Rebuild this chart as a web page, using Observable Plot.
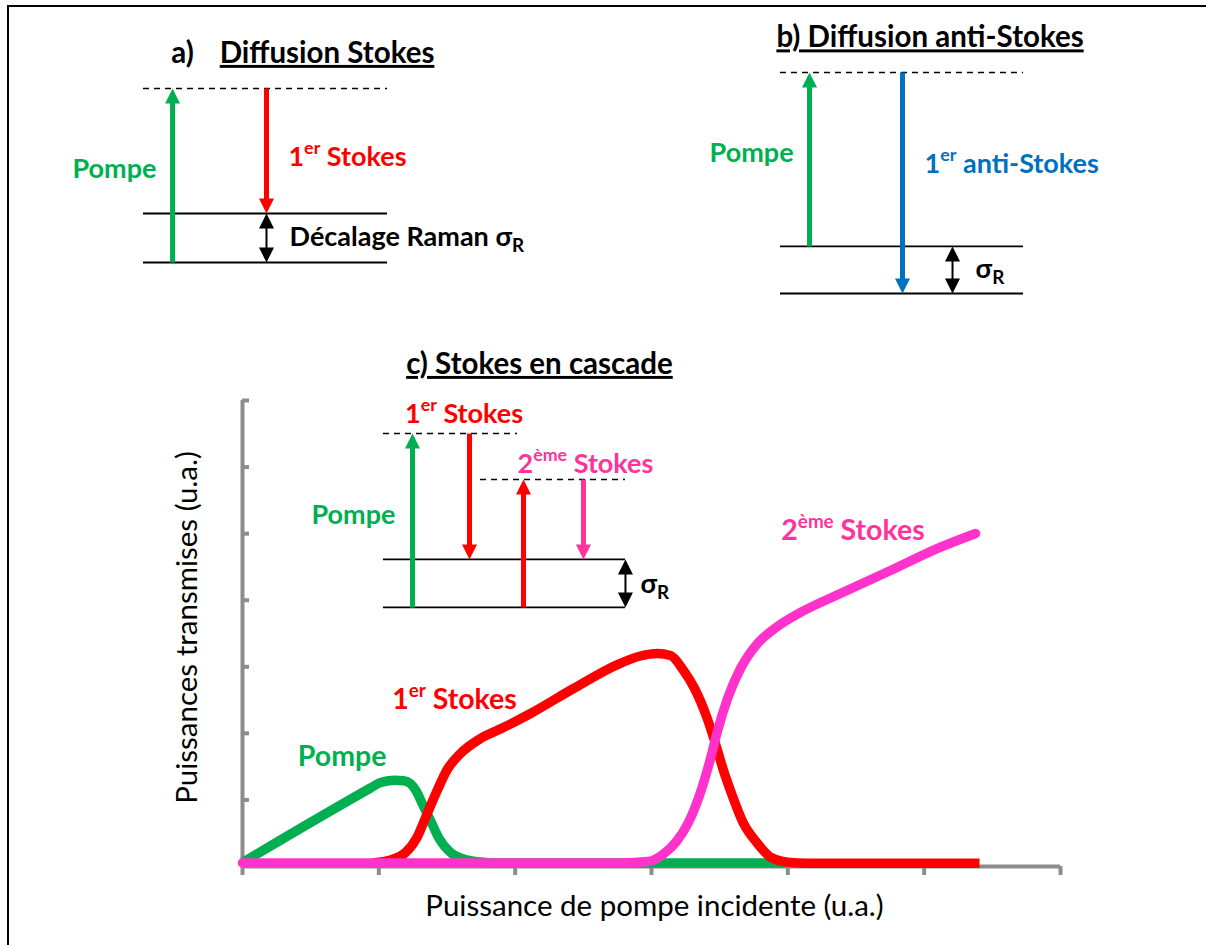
<!DOCTYPE html>
<html lang="fr">
<head>
<meta charset="utf-8">
<script src="https://cdn.jsdelivr.net/npm/d3@7"></script>
<script src="https://cdn.jsdelivr.net/npm/@observablehq/plot@0.6"></script>
<style>
  html, body { margin: 0; padding: 0; background: #fff; overflow: hidden; }
  #wrap { position: relative; width: 1206px; height: 945px; }
  #chart { position: absolute; left: 0; top: 0; }
  #frame { position: absolute; left: 7px; top: 5px; width: 1199px; height: 938px;
           border-top: 2px solid #000; border-left: 2px solid #000; pointer-events: none; }
</style>
</head>
<body>
<div id="wrap"><div id="chart"></div><div id="frame"></div></div>
<script>
// ---------- data (chart units: x = incident pump power, y = transmitted power) ----------
const xTicks = [0, 1, 2, 3, 4, 5, 6];
const yTicks = [0, 1, 2, 3, 4, 5, 6, 7];

const pompe = [
  [0, 0.06], [0.939, 1.179], [1.005, 1.255], [1.06, 1.285], [1.12, 1.295], [1.181, 1.288],
  [1.232, 1.245], [1.276, 1.127], [1.318, 0.946], [1.379, 0.691], [1.438, 0.436],
  [1.526, 0.21], [1.621, 0.113], [1.746, 0.068], [1.856, 0.053], [3.983, 0.053]
];
const stokes1 = [
  [0.954, 0.053], [1.108, 0.113], [1.196, 0.21], [1.281, 0.44], [1.355, 0.796],
  [1.428, 1.142], [1.502, 1.457], [1.599, 1.697], [1.746, 1.923], [1.914, 2.088],
  [2.113, 2.298], [2.428, 2.674], [2.751, 3.034], [2.919, 3.162], [3.042, 3.2],
  [3.14, 3.17], [3.235, 2.944], [3.316, 2.674], [3.409, 2.223], [3.477, 1.792],
  [3.528, 1.442], [3.587, 1.097], [3.675, 0.646], [3.778, 0.346], [3.873, 0.14],
  [3.998, 0.065], [4.144, 0.05], [5.406, 0.05]
];
const stokes2 = [
  [0, 0.053], [2.773, 0.053], [2.978, 0.075], [3.088, 0.188], [3.183, 0.376],
  [3.271, 0.661], [3.359, 1.112], [3.433, 1.622], [3.485, 2.043], [3.558, 2.524],
  [3.653, 2.974], [3.778, 3.35], [3.924, 3.605], [4.093, 3.816], [4.386, 4.101],
  [4.753, 4.446], [5.12, 4.796], [5.377, 5.002]
];

// energy-level diagrams a), b), c) expressed in the same units
const levelsReal = [
  {x1: -0.726, x2: 1.064, y: 9.809}, {x1: -0.726, x2: 1.064, y: 9.073},
  {x1: 3.946, x2: 5.729, y: 9.314}, {x1: 3.946, x2: 5.729, y: 8.607},
  {x1: 1.034, x2: 2.809, y: 4.612}, {x1: 1.034, x2: 2.809, y: 3.891}
];
const levelsVirtual = [
  {x1: -0.726, x2: 1.064, y: 11.687},
  {x1: 3.946, x2: 5.729, y: 11.927},
  {x1: 1.034, x2: 2.017, y: 6.504},
  {x1: 1.746, x2: 2.809, y: 5.813}
];
const transitions = [
  {x: -0.513, y1: 9.073, y2: 11.687, kind: "pompe"},
  {x: 0.176, y1: 11.687, y2: 9.809, kind: "s1"},
  {x: 4.159, y1: 9.314, y2: 11.927, kind: "pompe"},
  {x: 4.841, y1: 11.927, y2: 8.607, kind: "as"},
  {x: 1.247, y1: 3.891, y2: 6.504, kind: "pompe"},
  {x: 1.665, y1: 6.504, y2: 4.612, kind: "s1"},
  {x: 2.061, y1: 3.891, y2: 5.813, kind: "s1"},
  {x: 2.501, y1: 5.813, y2: 4.612, kind: "s2"}
];
const ramanShifts = [
  {x: 0.176, y1: 9.073, y2: 9.809},
  {x: 5.208, y1: 8.607, y2: 9.314},
  {x: 2.809, y1: 3.891, y2: 4.612}
];

const titles = [
  {x: -0.44, y: 12.213, text: "a)", underline: false},
  {x: 0.62, y: 12.213, text: "Diffusion Stokes", underline: true},
  {x: 5.043, y: 12.446, text: "b) Diffusion anti-Stokes", underline: true},
  {x: 2.178, y: 7.541, text: "c) Stokes en cascade", underline: true}
];
const diagramLabels = [
  {x: -0.631, y: 10.47, text: "Pompe", kind: "pompe", side: "left"},
  {x: 0.337, y: 10.658, text: "1^er Stokes", kind: "s1", side: "right"},
  {x: 0.345, y: 9.449, text: "Décalage Raman σ_R", kind: "black", side: "right"},
  {x: 4.042, y: 10.718, text: "Pompe", kind: "pompe", side: "left"},
  {x: 5.003, y: 10.553, text: "1^er anti-Stokes", kind: "as", side: "right"},
  {x: 5.377, y: 8.968, text: "σ_R", kind: "black", side: "right"},
  {x: 1.122, y: 5.273, text: "Pompe", kind: "pompe", side: "left"},
  {x: 1.625, y: 6.797, text: "1^er Stokes", kind: "s1", side: "above"},
  {x: 2.017, y: 6.046, text: "2^ème Stokes", kind: "s2", side: "right"},
  {x: 2.919, y: 4.236, text: "σ_R", kind: "black", side: "right"}
];
const curveLabels = [
  {x: 0.731, y: 1.652, text: "Pompe", kind: "pompe"},
  {x: 1.555, y: 2.509, text: "1^er Stokes", kind: "s1"},
  {x: 4.478, y: 5.047, text: "2^ème Stokes", kind: "s2"}
];
const xTitle = "Puissance de pompe incidente (u.a.)";
const yTitle = "Puissances transmises (u.a.)";

// ---------- styles ----------
const colors = {pompe: "#00b050", s1: "#ff0000", s2: "#ff3399", as: "#0070c0", black: "#000000"};
const lineColors = {pompe: "#00b050", s1: "#ff0000", s2: "#ff33cc"};
const gray = "#8c8c8c";
const FONT = "Lato, 'Open Sans', 'DejaVu Sans', sans-serif";
const headUp = {draw(c) { c.moveTo(0, 0); c.lineTo(7.5, 15); c.lineTo(-7.5, 15); c.closePath(); }};
const headDown = {draw(c) { c.moveTo(0, 0); c.lineTo(7.5, -15); c.lineTo(-7.5, -15); c.closePath(); }};
const up = transitions.filter(d => d.y2 > d.y1);
const down = transitions.filter(d => d.y2 < d.y1);
const col = d => colors[d.kind];

const chart = Plot.plot({
  width: 1206, height: 945,
  marginLeft: 242, marginRight: 146, marginTop: 400, marginBottom: 79,
  x: {domain: [0, 6]},
  y: {domain: [0, 7]},
  color: {type: "identity"},
  style: {fontFamily: FONT, background: "transparent", overflow: "visible"},
  marks: [
    // axes
    Plot.axisX(xTicks, {tickSize: 9, tickFormat: () => "", label: null, stroke: gray, strokeWidth: 4}),
    Plot.axisY(yTicks.slice(1), {tickSize: 7, dx: 7, tickFormat: () => "", label: null, stroke: gray, strokeWidth: 4}),
    Plot.ruleX([{x: 0, y1: 0, y2: 7}], {x: "x", y1: "y1", y2: "y2", stroke: gray, strokeWidth: 4}),
    Plot.ruleY([{y: 0, x1: 0, x2: 6}], {y: "y", x1: "x1", x2: "x2", stroke: gray, strokeWidth: 4}),
    Plot.text([yTitle], {text: d => d, frameAnchor: "left", rotate: -90, dx: -55, dy: -6,
      fontSize: 29.5, fill: "#000", textAnchor: "middle"}),
    Plot.text([xTitle], {text: d => d, frameAnchor: "bottom", dx: 3, dy: 49,
      fontSize: 29.5, fill: "#000", textAnchor: "middle"}),

    // curves
    Plot.line(pompe, {x: d => d[0], y: d => d[1], stroke: lineColors.pompe, strokeWidth: 9.5,
      curve: "monotone-x", strokeLinecap: "butt"}),
    Plot.line(stokes1, {x: d => d[0], y: d => d[1], stroke: lineColors.s1, strokeWidth: 9.5,
      curve: "monotone-x", strokeLinecap: "butt"}),
    Plot.line(stokes2, {x: d => d[0], y: d => d[1], stroke: lineColors.s2, strokeWidth: 9.5,
      curve: "monotone-x", strokeLinecap: "round"}),
    Plot.text(curveLabels, {x: "x", y: "y", text: "text", fill: col, fontSize: 28.5,
      fontWeight: "bold", textAnchor: "middle"}),

    // level diagrams
    Plot.ruleY(levelsReal, {y: "y", x1: "x1", x2: "x2", stroke: "#000", strokeWidth: 1.8}),
    Plot.ruleY(levelsVirtual, {y: "y", x1: "x1", x2: "x2", stroke: "#000", strokeWidth: 1.3,
      strokeDasharray: "6,5"}),
    Plot.arrow(transitions, {x1: "x", x2: "x", y1: "y1", y2: "y2", stroke: col, strokeWidth: 5,
      headLength: 0, insetEnd: 10, strokeLinecap: "butt"}),
    Plot.dot(up, {x: "x", y: "y2", symbol: headUp, fill: col, stroke: "none"}),
    Plot.dot(down, {x: "x", y: "y2", symbol: headDown, fill: col, stroke: "none"}),
    Plot.arrow(ramanShifts, {x1: "x", x2: "x", y1: "y1", y2: "y2", stroke: "#000", strokeWidth: 2,
      headLength: 0, insetStart: 10, insetEnd: 10, strokeLinecap: "butt"}),
    Plot.dot(ramanShifts, {x: "x", y: "y2", symbol: headUp, fill: "#000", stroke: "none"}),
    Plot.dot(ramanShifts, {x: "x", y: "y1", symbol: headDown, fill: "#000", stroke: "none"}),

    Plot.text(titles, {x: "x", y: "y", text: "text", fill: "#000", fontSize: 29.5,
      fontWeight: "bold", textAnchor: "middle"}),
    Plot.text(diagramLabels.filter(d => d.side === "left"), {x: "x", y: "y", text: "text", fill: col,
      fontSize: 27, fontWeight: "bold", textAnchor: "end"}),
    Plot.text(diagramLabels.filter(d => d.side === "right"), {x: "x", y: "y", text: "text", fill: col,
      fontSize: 27, fontWeight: "bold", textAnchor: "start"}),
    Plot.text(diagramLabels.filter(d => d.side === "above"), {x: "x", y: "y", text: "text", fill: col,
      fontSize: 27, fontWeight: "bold", textAnchor: "middle"})
  ]
});
document.getElementById("chart").appendChild(chart);

// underline titles, and render ^superscripts / _subscripts as tspans
const underlined = new Set(titles.filter(d => d.underline).map(d => d.text));
for (const t of chart.querySelectorAll("text")) {
  const s = t.textContent;
  if (underlined.has(s)) { t.style.textDecoration = "underline"; continue; }
  if (!/[\^_]/.test(s)) continue;
  const fs = parseFloat(getComputedStyle(t).fontSize);
  const parts = s.match(/[\^_][^\s\^_]+|[^\^_]+/g);
  t.textContent = "";
  let shift = 0;
  for (const p of parts) {
    const ts = document.createElementNS("http://www.w3.org/2000/svg", "tspan");
    let target = 0, txt = p, size = null;
    if (p[0] === "^") { target = -0.42 * fs; txt = p.slice(1); size = 0.66 * fs; }
    else if (p[0] === "_") { target = 0.2 * fs; txt = p.slice(1); size = 0.7 * fs; }
    ts.setAttribute("dy", target - shift);
    shift = target;
    if (size) ts.setAttribute("font-size", size);
    ts.textContent = txt;
    t.appendChild(ts);
  }
}
</script>
</body>
</html>
